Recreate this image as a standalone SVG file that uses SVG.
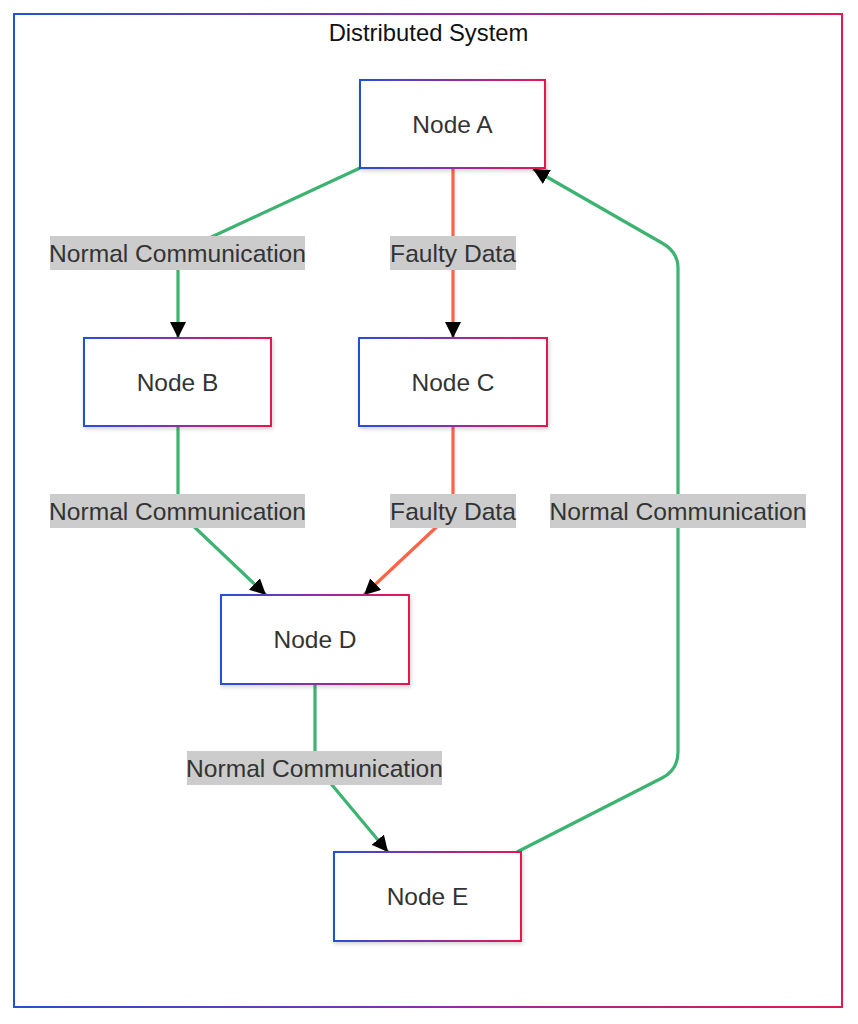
<svg xmlns="http://www.w3.org/2000/svg" width="858" height="1024" viewBox="0 0 858 1024">
<defs>
<linearGradient id="grad" x1="0" y1="0" x2="1" y2="0">
<stop offset="0" stop-color="#2450d8"/>
<stop offset="0.5" stop-color="#8a2fa8"/>
<stop offset="1" stop-color="#e8174f"/>
</linearGradient>
<filter id="shadow" x="-10%" y="-10%" width="130%" height="130%">
<feDropShadow dx="1" dy="2" stdDeviation="2" flood-color="#000" flood-opacity="0.18"/>
</filter>
<marker id="arrow" viewBox="0 0 10 10" refX="10" refY="5" markerWidth="16" markerHeight="16" markerUnits="userSpaceOnUse" orient="auto">
<path d="M0,0 L10,5 L0,10 z" fill="#000"/>
</marker>
<style>
.node rect{fill:#fff;stroke:url(#grad);stroke-width:2;filter:url(#shadow)}
.node text{font-family:"Liberation Sans",Arial,sans-serif;font-size:24.5px;fill:#333;text-anchor:middle}
.edge{fill:none;stroke-width:3.2;marker-end:url(#arrow)}
.ok{stroke:#3cb371}
.bad{stroke:#ff6347}
.lbl rect{fill:#cccccc}
.lbl text{font-family:"Liberation Sans",Arial,sans-serif;font-size:24.6px;fill:#333;text-anchor:middle}
</style>
</defs>
<rect width="858" height="1024" fill="#fff"/>
<g id="cluster">
<rect x="14" y="14" width="828" height="993" fill="#fff" stroke="url(#grad)" stroke-width="2"/>
<text x="428.5" y="41" font-family="Liberation Sans,Arial,sans-serif" font-size="23.8" fill="#111" text-anchor="middle">Distributed System</text>
</g>
<g id="connectors">
<path class="edge ok" d="M360 168 L190 247 Q178 253 178 265 L178 338"/>
<path class="edge bad" d="M453 168 L453 338"/>
<path class="edge ok" d="M178 426 L178 500 Q178 512 187 520 L266 595"/>
<path class="edge bad" d="M453 426 L453 500 Q453 512 444 520 L364 595"/>
<path class="edge ok" d="M315 684 L315 755 Q315 765 322 773 L388 852"/>
<path class="edge ok" d="M517 852 L662 778 Q678 770 678 752 L678 268 Q678 252 662 243 L533 169"/>
</g>
<g id="edge-labels">
<g class="lbl"><rect x="50" y="236" width="255" height="34"/><text x="177.5" y="261.5">Normal Communication</text></g>
<g class="lbl"><rect x="390" y="236" width="126" height="34"/><text x="453" y="261.5">Faulty Data</text></g>
<g class="lbl"><rect x="50" y="494" width="255" height="34"/><text x="177.5" y="519.5">Normal Communication</text></g>
<g class="lbl"><rect x="390" y="494" width="126" height="34"/><text x="453" y="519.5">Faulty Data</text></g>
<g class="lbl"><rect x="550" y="494" width="256" height="34"/><text x="678" y="519.5">Normal Communication</text></g>
<g class="lbl"><rect x="187" y="751" width="255" height="34"/><text x="314.5" y="776.5">Normal Communication</text></g>
</g>
<g id="nodeA" class="node"><rect x="360" y="80" width="185" height="88"/><text x="452.5" y="132.5">Node A</text></g>
<g id="nodeB" class="node"><rect x="84" y="338" width="187" height="88"/><text x="177.5" y="390.5">Node B</text></g>
<g id="nodeC" class="node"><rect x="359" y="338" width="188" height="88"/><text x="453" y="390.5">Node C</text></g>
<g id="nodeD" class="node"><rect x="221" y="595" width="188" height="89"/><text x="315" y="648">Node D</text></g>
<g id="nodeE" class="node"><rect x="334" y="852" width="187" height="89"/><text x="427.5" y="905">Node E</text></g>
</svg>
